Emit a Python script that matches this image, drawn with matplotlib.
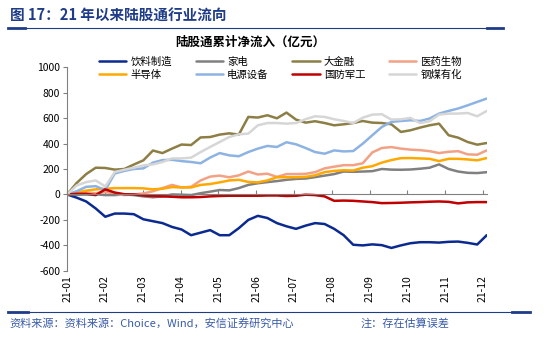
import numpy as np
import matplotlib
matplotlib.use('Agg')
import matplotlib.pyplot as plt
from matplotlib.lines import Line2D

plt.rcParams['font.family'] = ['Noto Sans CJK SC', 'DejaVu Sans']
plt.rcParams['axes.unicode_minus'] = False

# month ticks
month_labels = ['21-01', '21-02', '21-03', '21-04', '21-05', '21-06',
                '21-07', '21-08', '21-09', '21-10', '21-11', '21-12']

# cumulative net inflow (100m CNY), ~weekly points from Jan to mid Dec 2021
beverage = [0, -25, -55, -110, -175, -150, -150, -155, -195, -210, -225, -255,
            -275, -320, -300, -280, -320, -320, -265, -200, -168, -185, -225,
            -250, -270, -245, -225, -232, -270, -320, -395, -400, -392, -398,
            -420, -400, -383, -375, -375, -378, -372, -370, -380, -393, -320]
appliance = [0, -2, 0, 2, -5, -5, 0, -5, -15, -22, -15, 0, -2, -5, 10, 22, 35,
             32, 50, 75, 88, 97, 105, 115, 122, 125, 136, 148, 160, 180, 178,
             180, 183, 200, 195, 194, 196, 202, 210, 236, 200, 180, 170, 168, 175]
finance = [0, 90, 160, 210, 208, 195, 200, 235, 268, 345, 325, 360, 392, 388,
           448, 451, 470, 480, 470, 609, 604, 622, 598, 643, 588, 564, 575, 561,
           543, 551, 561, 577, 564, 561, 551, 491, 504, 525, 543, 556, 465, 446,
           412, 391, 404]
pharma = [0, 10, 15, 10, 20, 5, -5, 0, 8, 25, 50, 75, 55, 60, 110, 140, 148,
          135, 150, 180, 157, 163, 138, 160, 160, 162, 175, 205, 218, 230, 230,
          245, 330, 365, 372, 360, 352, 348, 340, 325, 335, 340, 315, 312, 346]
semi = [0, 15, 30, 40, 45, 50, 50, 50, 48, 40, 45, 58, 55, 55, 75, 82, 95, 110,
        115, 98, 95, 110, 135, 135, 135, 138, 150, 175, 185, 190, 188, 210, 222,
        250, 270, 285, 286, 283, 280, 262, 280, 280, 275, 268, 286]
power = [0, 25, 60, 65, 35, 165, 185, 200, 205, 250, 270, 272, 262, 255, 245,
         290, 325, 307, 300, 333, 360, 381, 373, 410, 394, 365, 333, 320, 346,
         338, 341, 399, 465, 530, 570, 577, 583, 577, 596, 635, 656, 675, 700,
         727, 753]
defense = [0, 5, 5, -5, 40, 15, 2, 0, -8, -12, -15, -18, -22, -22, -20, -15,
           -12, -10, -10, -10, -10, -8, -8, -12, -10, -2, -5, -15, -50, -48, -50,
           -55, -60, -68, -67, -65, -62, -60, -57, -55, -58, -70, -62, -60, -60]
cyclical = [0, 71, 97, 110, 63, 176, 194, 210, 228, 236, 255, 283, 283, 289,
            333, 373, 412, 451, 472, 478, 543, 561, 561, 556, 561, 591, 614, 609,
            591, 577, 561, 603, 627, 630, 588, 590, 601, 561, 575, 627, 635, 635,
            640, 614, 656]

series = [
    ('饮料制造', beverage, '#0B2A8F'),
    ('家电', appliance, '#808080'),
    ('大金融', finance, '#8C7E45'),
    ('医药生物', pharma, '#F2A185'),
    ('半导体', semi, '#FFA800'),
    ('电源设备', power, '#8DB3E2'),
    ('国防军工', defense, '#C00000'),
    ('钢煤有化', cyclical, '#D6D6D6'),
]

n = len(beverage)
x = np.arange(n) * (11.1 / (n - 1))  # month position

fig = plt.figure(figsize=(5.5, 3.39), dpi=100)
ax = fig.add_axes([0.122, 0.201, 0.763, 0.601])

lines = {}
for name, vals, col in series:
    lines[name], = ax.plot(x, vals, color=col, linewidth=1.8, label=name,
                           solid_capstyle='round', solid_joinstyle='round')

ax.set_xlim(0, 11.1)
ax.set_ylim(-600, 1000)
ax.set_yticks(np.arange(-600, 1001, 200))
ax.tick_params(axis='y', labelsize=7.5, length=3, color='#808080', pad=2)
for s in ['top', 'right']:
    ax.spines[s].set_visible(False)
ax.spines['left'].set_color('#808080')
ax.spines['bottom'].set_color('#808080')
ax.spines['bottom'].set_position(('data', 0))
ax.set_xticks(range(len(month_labels)))
ax.tick_params(axis='x', direction='in', length=3, color='#808080', labelbottom=False)

sec = ax.secondary_xaxis('bottom')
sec.set_xticks(range(len(month_labels)), labels=month_labels)
sec.tick_params(axis='x', length=0, labelsize=7.5, rotation=90, pad=3)
sec.spines['bottom'].set_visible(False)

# legend (row-major order)
order = ['饮料制造', '半导体', '家电', '电源设备', '大金融', '国防军工', '医药生物', '钢煤有化']
fig.legend([lines[k] for k in order], order, ncol=4, loc='upper center',
           bbox_to_anchor=(0.51, 0.86), frameon=False, fontsize=7.5,
           handlelength=2.6, columnspacing=2.3, labelspacing=0.25,
           handletextpad=0.4)

# header
dark_blue = '#1F3C88'
fig.text(0.018, 0.955, '图 17：21 年以来陆股通行业流向', fontsize=10.5,
         fontweight='bold', color=dark_blue, va='center', ha='left')
fig.add_artist(Line2D([0.015, 0.915], [0.917, 0.917], color=dark_blue, lw=0.8))
fig.add_artist(Line2D([0.015, 0.045], [0.917, 0.917], color=dark_blue, lw=2))
fig.add_artist(Line2D([0.885, 0.915], [0.917, 0.917], color=dark_blue, lw=2))
fig.text(0.455, 0.875, '陆股通累计净流入（亿元）', fontsize=9, fontweight='bold',
         ha='center', va='center')

# footer
fig.add_artist(Line2D([0.015, 0.963], [0.08, 0.08], color=dark_blue, lw=0.8))
fig.add_artist(Line2D([0.015, 0.05], [0.08, 0.08], color=dark_blue, lw=2))
fig.add_artist(Line2D([0.93, 0.963], [0.08, 0.08], color=dark_blue, lw=2))
foot_col = '#3A5BA8'
fig.text(0.018, 0.045, '资料来源：资料来源：Choice，Wind，安信证券研究中心',
         fontsize=8, color=foot_col, style='italic', va='center')
fig.text(0.655, 0.045, '注：存在估算误差', fontsize=8, color=foot_col,
         style='italic', va='center')

fig.savefig('out.png', dpi=100)
